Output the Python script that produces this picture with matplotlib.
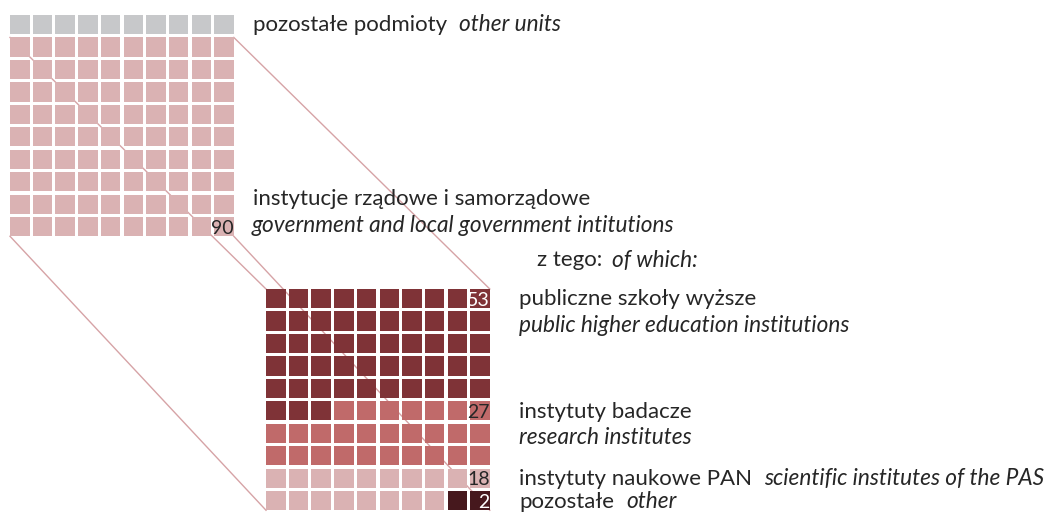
import matplotlib
matplotlib.use('Agg')
import matplotlib.pyplot as plt
from matplotlib.patches import Rectangle

# data
top_counts = [10, 90]          # other units, government and local government
top_colors = ['#c7c8ca', '#dab2b3']
bottom_counts = [53, 27, 18, 2]  # of which
bottom_colors = ['#7f3337', '#c06a6a', '#dab2b3', '#46181d']
bottom_numbers = ['53', '27', '18', '2']
number_colors = ['white', '#262626', '#262626', 'white']

# layout in pixels (figure 1049x512)
PX, PY = 22.7, 22.45   # pitch
CW, CH = 19.5, 19.2    # cell size
TOP_X0, TOP_Y0 = 10, 15
BOT_X0, BOT_Y0 = 266, 289
LINE_COLOR = '#d6a3a6'
TXT = '#262626'

plt.rcParams['font.family'] = ['Lato', 'DejaVu Sans']
FS = 16
FS_IT = 16.3
FS_NUM = 14

fig = plt.figure(figsize=(10.49, 5.12), dpi=100)
ax = fig.add_axes([0, 0, 1, 1])
ax.set_xlim(0, 1049)
ax.set_ylim(512, 0)
ax.axis('off')
renderer = fig.canvas.get_renderer()


def cell_xy(x0, y0, i):
    return x0 + (i % 10) * PX, y0 + (i // 10) * PY


def draw_waffle(x0, y0, counts, colors):
    i = 0
    for n, c in zip(counts, colors):
        for _ in range(n):
            x, y = cell_xy(x0, y0, i)
            ax.add_patch(Rectangle((x, y), CW, CH, facecolor=c, edgecolor='none', zorder=2))
            i += 1


draw_waffle(TOP_X0, TOP_Y0, top_counts, top_colors)
draw_waffle(BOT_X0, BOT_Y0, bottom_counts, bottom_colors)

# connecting lines: corners of the pink block -> corners of the bottom grid
first = top_counts[0]
bx0, by0 = cell_xy(TOP_X0, TOP_Y0, first)
bx1 = cell_xy(TOP_X0, TOP_Y0, 9)[0] + CW
by1 = cell_xy(TOP_X0, TOP_Y0, 99)[1] + CH
cx0, cy0 = BOT_X0, BOT_Y0
cx1 = cell_xy(BOT_X0, BOT_Y0, 9)[0] + CW
cy1 = cell_xy(BOT_X0, BOT_Y0, 99)[1] + CH
for (xa, ya), (xb, yb) in [((bx0, by0), (cx0, cy0)), ((bx1, by0), (cx1, cy0)),
                           ((bx0, by1), (cx0, cy1)), ((bx1, by1), (cx1, cy1))]:
    ax.plot([xa, xb], [ya, yb], color=LINE_COLOR, lw=1, zorder=1)

# numbers
ax.text(bx1, TOP_Y0 + 9 * PY + 16.5, '90', ha='right', va='baseline', fontsize=FS_NUM, color=TXT, zorder=3)
starts = [0, 53, 80, 98]
for s, num, nc in zip(starts, bottom_numbers, number_colors):
    row = s // 10
    ax.text(cx1, BOT_Y0 + row * PY + 16.5, num, ha='right', va='baseline', fontsize=FS_NUM, color=nc, zorder=3)


def label(x, y, normal, italic=None, gap=12):
    x_it = x
    if normal:
        t = ax.text(x, y, normal, ha='left', va='baseline', fontsize=FS, color=TXT)
        x_it = x + t.get_window_extent(renderer).width + gap
    if italic:
        ax.text(x_it, y, italic, ha='left', va='baseline', fontsize=FS_IT, color=TXT, style='italic')


label(253, 31, 'pozostałe podmioty', 'other units')
label(253, 205, 'instytucje rządowe i samorządowe')
label(252, 232, '', 'government and local government intitutions')
label(537, 266.5, 'z tego:', 'of which:', gap=10)
label(519, 305, 'publiczne szkoły wyższe')
label(519, 332, '', 'public higher education institutions')
label(519, 417.5, 'instytuty badacze')
label(519, 444.5, '', 'research institutes')
label(519, 485, 'instytuty naukowe PAN', 'scientific institutes of the PAS')
label(519, 507.5, 'pozostałe', 'other')

fig.savefig('out.png', dpi=100)
